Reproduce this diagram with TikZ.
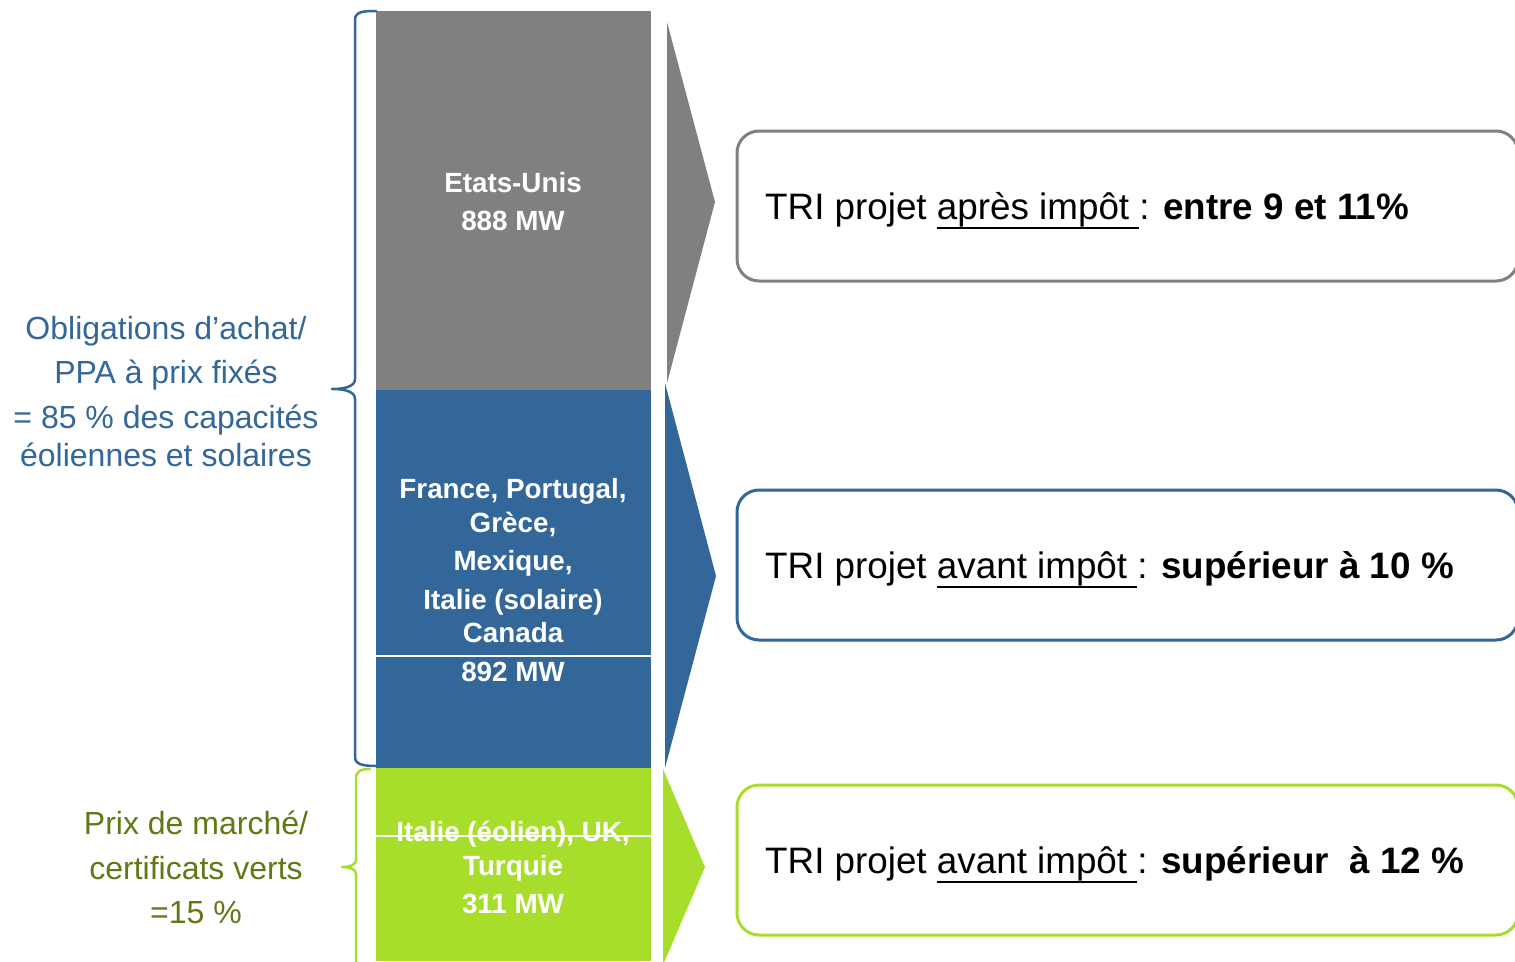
\documentclass[tikz,border=0pt]{standalone}
\usepackage{fontspec}
\setmainfont{Liberation Sans}
\definecolor{bargray}{RGB}{128,128,128}
\definecolor{barblue}{RGB}{51,102,153}
\definecolor{bargreen}{RGB}{167,221,43}
\definecolor{txtgreen}{RGB}{95,122,20}
\newcommand\myul[1]{\setbox0\hbox{#1}\rlap{\rule[-10pt]{\wd0}{2pt}}\box0}
\begin{document}
\begin{tikzpicture}[x=1pt,y=-1pt,
  bartext/.style={text=white,font=\fontsize{27.8}{32}\selectfont\bfseries,anchor=base,inner sep=0pt},
  sidetext/.style={font=\fontsize{32}{38}\selectfont,anchor=base,inner sep=0pt},
  tritext/.style={font=\fontsize{36.8}{42}\selectfont,anchor=base west,inner sep=0pt},
  tribox/.style={line width=3pt,rounded corners=22pt},
  bracestyle/.style={line width=2.5pt,line cap=round,line join=round}]
\useasboundingbox (0,0) rectangle (1515,961);
\clip (0,0) rectangle (1515,961);
% bars
\fill[bargray] (376,11) rectangle (651,390);
\fill[barblue] (376,390) rectangle (651,768);
\fill[bargreen] (376,768) rectangle (651,961);
\draw[white,line width=1.5pt] (376,656) -- (651,656);
\draw[white,line width=1.5pt] (376,836) -- (651,836);
% arrows
\fill[bargray] (667,22) -- (715,202) -- (667,383) -- cycle;
\fill[barblue] (665,383) -- (716,576) -- (665,768) -- cycle;
\fill[bargreen] (663,769) -- (705,867) -- (663,965) -- cycle;
% bar texts
\node[bartext] (us1) at (513,192) {Etats-Unis};
\node[bartext] (us2) at (513,230) {888 MW};
\node[bartext] (eu1) at (513,498) {France, Portugal,};
\node[bartext] (eu2) at (513,532) {Grèce,};
\node[bartext] (eu3) at (513,570) {Mexique,};
\node[bartext] (eu4) at (513,609) {Italie (solaire)};
\node[bartext] (eu5) at (513,642) {Canada};
\node[bartext] (eu6) at (513,681) {892 MW};
\node[bartext] (gr1) at (513,841) {Italie (éolien), UK,};
\node[bartext] (gr2) at (513,875) {Turquie};
\node[bartext] (gr3) at (513,913) {311 MW};
% braces
\draw[barblue,bracestyle] (376,11) .. controls (362,11) and (355,12) .. (355,20) -- (355,379)
  .. controls (355,386) and (346,389) .. (332,389) .. controls (346,389) and (355,392) .. (355,399)
  -- (355,757) .. controls (355,764) and (362,766) .. (376,766);
\draw[bargreen,bracestyle] (370,769) .. controls (361,769) and (356,771) .. (356,778) -- (356,860)
  .. controls (356,865) and (350,867) .. (342,867) .. controls (350,867) and (356,869) .. (356,874)
  -- (356,975);
% side texts
\node[sidetext,text=barblue] (l1) at (166,339) {Obligations d’achat/};
\node[sidetext,text=barblue] (l2) at (166,383) {PPA à prix fixés};
\node[sidetext,text=barblue] (l3) at (166,428) {= 85 \% des capacités};
\node[sidetext,text=barblue] (l4) at (166,466) {éoliennes et solaires};
\node[sidetext,text=txtgreen] (m1) at (196,834) {Prix de marché/};
\node[sidetext,text=txtgreen] (m2) at (196,879) {certificats verts};
\node[sidetext,text=txtgreen] (m3) at (196,923) {=15 \%};
% result boxes
\draw[tribox,draw=bargray] (737,131) rectangle (1518,281);
\draw[tribox,draw=barblue] (737,490) rectangle (1518,640);
\draw[tribox,draw=bargreen] (737,785) rectangle (1518,935);
\node[tritext] (t1) at (765,219) {TRI projet \myul{après impôt\ }: \textbf{entre 9 et 11\%}};
\node[tritext] (t2) at (765,578) {TRI projet \myul{avant impôt\ }: \textbf{supérieur à 10 \%}};
\node[tritext] (t3) at (765,873) {TRI projet \myul{avant impôt\ }: \textbf{supérieur \ à 12 \%}};
\end{tikzpicture}
\end{document}
